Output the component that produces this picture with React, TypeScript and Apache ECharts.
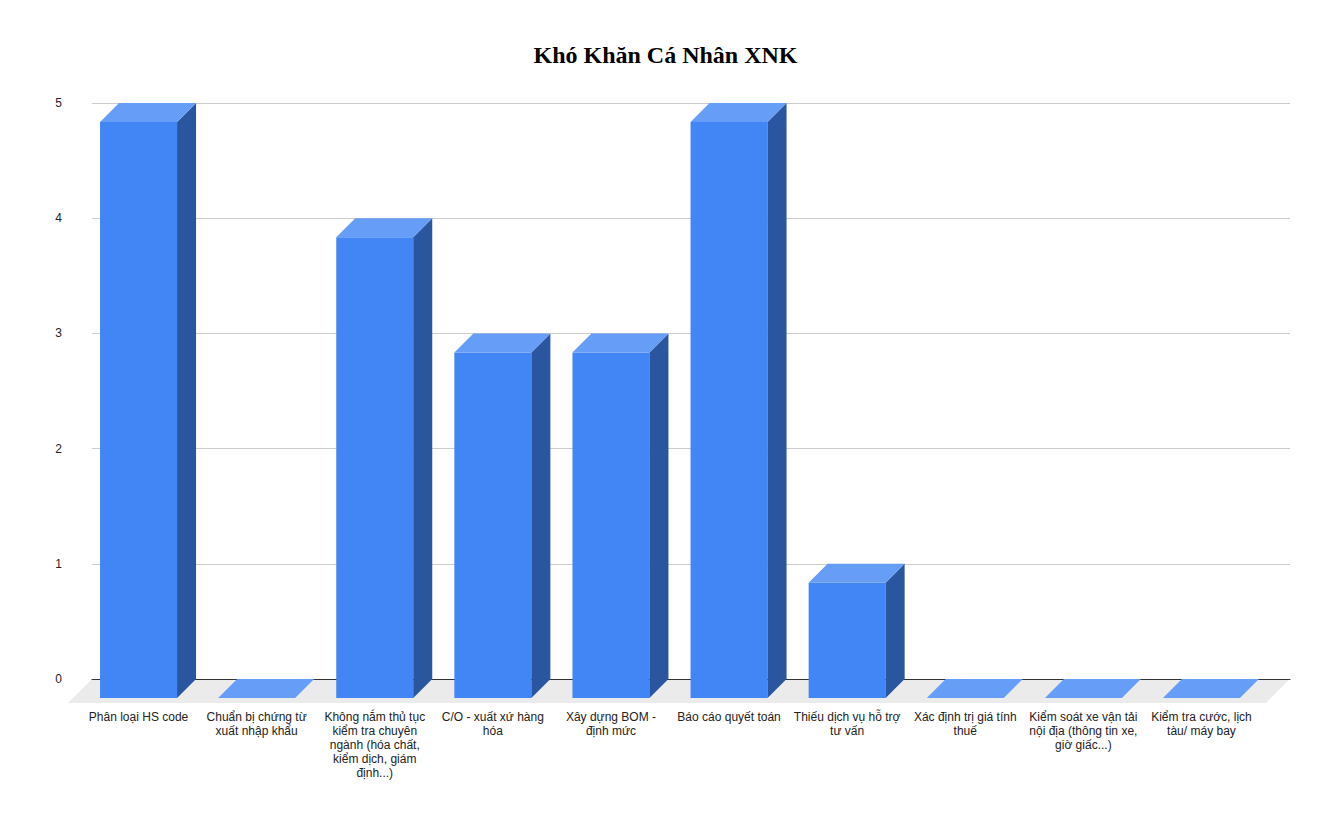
import React, { useEffect, useRef } from "react";
import * as echarts from "echarts";

const title = "Khó Khăn Cá Nhân XNK";
const categories = [
  "Phân loại HS code",
  "Chuẩn bị chứng từ xuất nhập khẩu",
  "Không nắm thủ tục kiểm tra chuyên ngành (hóa chất, kiểm dịch, giám định...)",
  "C/O - xuất xứ hàng hóa",
  "Xây dựng BOM - định mức",
  "Báo cáo quyết toán",
  "Thiếu dịch vụ hỗ trợ tư vấn",
  "Xác định trị giá tính thuế",
  "Kiểm soát xe vận tải nội địa (thông tin xe, giờ giấc...)",
  "Kiểm tra cước, lịch tàu/ máy bay",
];
const values = [5, 0, 4, 3, 3, 5, 1, 0, 0, 0];
const yTicks = [0, 1, 2, 3, 4, 5];

const FRONT = "#4285f4";
const TOP = "#669df6";
const SIDE = "#2a56a0";
const DEPTH = 19;
const LABEL_FONT = "12px 'Liberation Sans', Arial, sans-serif";
const WRAP_WIDTH = 114;

function wrapLabel(text: string): string {
  const canvas = document.createElement("canvas");
  const ctx = canvas.getContext("2d");
  if (!ctx) return text;
  ctx.font = LABEL_FONT;
  const words = text.split(" ");
  const lines: string[] = [];
  let cur = "";
  for (const w of words) {
    const test = cur ? cur + " " + w : w;
    if (cur && ctx.measureText(test).width > WRAP_WIDTH) {
      lines.push(cur);
      cur = w;
    } else {
      cur = test;
    }
  }
  if (cur) lines.push(cur);
  return lines.join("\n");
}

export default function App() {
  const ref = useRef<HTMLDivElement>(null);
  useEffect(() => {
    if (!ref.current) return;
    const chart = echarts.init(ref.current, undefined, { renderer: "svg" });
    const option: any = {
      animation: false,
      backgroundColor: "#ffffff",
      title: {
        text: title,
        left: "center",
        top: 38,
        textStyle: {
          fontFamily: "'Liberation Serif', 'Times New Roman', serif",
          fontWeight: "bold",
          fontSize: 24,
          color: "#000",
        },
      },
      graphic: [
        {
          type: "polygon",
          z: 0,
          silent: true,
          shape: {
            points: [
              [92, 679],
              [1290, 679],
              [1266, 703],
              [68, 703],
            ],
          },
          style: { fill: "#ebebeb" },
        },
      ],
      grid: [
        { left: 79.5, right: 70.5, top: 103, bottom: 142 },
        { left: 92, right: 41, top: 103, bottom: 142 },
      ],
      xAxis: [
        {
          type: "category",
          gridIndex: 0,
          data: categories,
          axisLine: { show: false },
          axisTick: { show: false },
          axisLabel: {
            interval: 0,
            margin: 31,
            fontFamily: "'Liberation Sans', Arial, sans-serif",
            fontSize: 12,
            color: "#222",
            lineHeight: 14,
            align: "center",
            verticalAlign: "top",
            formatter: (v: string) => wrapLabel(v),
          },
        },
        {
          type: "category",
          gridIndex: 1,
          data: categories,
          axisLine: { show: true, lineStyle: { color: "#333", width: 1 } },
          axisTick: { show: false },
          axisLabel: { show: false },
          z: 1,
        },
      ],
      yAxis: [
        {
          type: "value",
          gridIndex: 0,
          min: 0,
          max: 5,
          interval: 1,
          axisLabel: { show: false },
          axisLine: { show: false },
          axisTick: { show: false },
          splitLine: { show: false },
        },
        {
          type: "value",
          gridIndex: 1,
          min: 0,
          max: 5,
          interval: 1,
          axisLine: { show: false },
          axisTick: { show: false },
          splitLine: { show: true, lineStyle: { color: "#cccccc", width: 1 } },
          axisLabel: {
            margin: 30,
            fontFamily: "'Liberation Sans', Arial, sans-serif",
            fontSize: 12,
            color: "#222",
            formatter: (v: number) => (yTicks.includes(v) ? String(v) : ""),
          },
        },
      ],
      series: [
        {
          type: "custom",
          xAxisIndex: 0,
          yAxisIndex: 0,
          z: 10,
          data: values.map((v, i) => [i, v]),
          renderItem: (params: any, api: any) => {
            const idx = api.value(0);
            const val = api.value(1);
            const top = api.coord([idx, val]);
            const base = api.coord([idx, 0]);
            const band = api.size([1, 0])[0];
            const w = band * 0.652;
            const cx = top[0];
            const xl = cx - w / 2;
            const xr = cx + w / 2;
            const yTopFront = top[1] + DEPTH;
            const yBaseFront = base[1] + DEPTH;
            const children: any[] = [];
            if (val > 0) {
              children.push({
                type: "rect",
                shape: { x: xl, y: yTopFront, width: w, height: yBaseFront - yTopFront },
                style: { fill: FRONT },
              });
              children.push({
                type: "polygon",
                shape: {
                  points: [
                    [xr, yTopFront],
                    [xr + DEPTH, top[1]],
                    [xr + DEPTH, base[1]],
                    [xr, yBaseFront],
                  ],
                },
                style: { fill: SIDE },
              });
            }
            children.push({
              type: "polygon",
              shape: {
                points: [
                  [xl, yTopFront],
                  [xl + DEPTH, top[1]],
                  [xr + DEPTH, top[1]],
                  [xr, yTopFront],
                ],
              },
              style: { fill: TOP },
            });
            return { type: "group", children };
          },
        },
      ],
    };
    chart.setOption(option);
    return () => chart.dispose();
  }, []);
  return (
    <div
      ref={ref}
      style={{ position: "absolute", left: 0, top: 0, width: 1331, height: 821 }}
    />
  );
}
